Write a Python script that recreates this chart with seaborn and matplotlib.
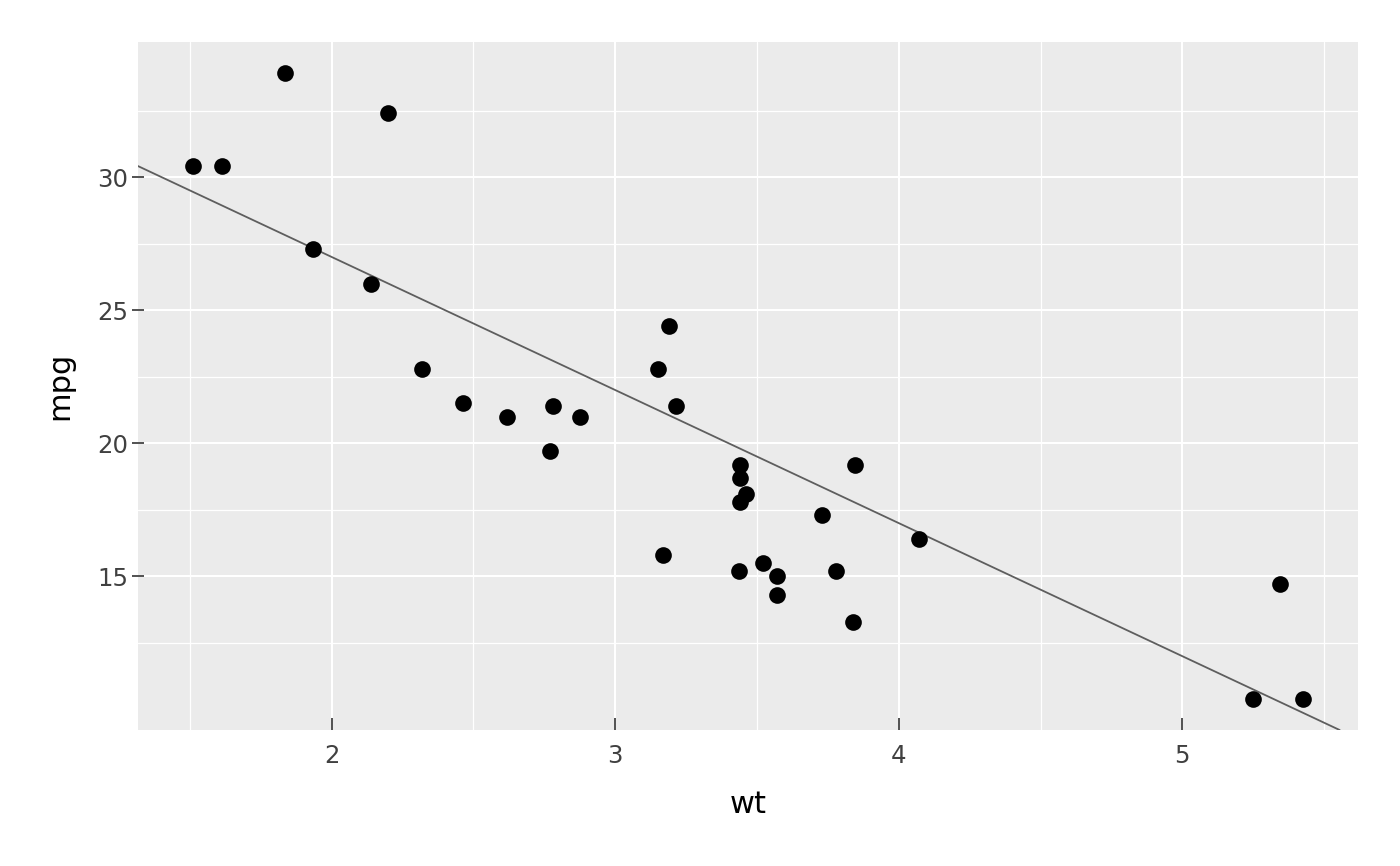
import numpy as np
import pandas as pd
import seaborn as sns
import matplotlib.pyplot as plt
from matplotlib.ticker import FixedLocator

# mtcars weight vs mileage
wt = [2.620, 2.875, 2.320, 3.215, 3.440, 3.460, 3.570, 3.190, 3.150, 3.440, 3.440,
      4.070, 3.730, 3.780, 5.250, 5.424, 5.345, 2.200, 1.615, 1.835, 2.465, 3.520,
      3.435, 3.840, 3.845, 1.935, 2.140, 1.513, 3.170, 2.770, 3.570, 2.780]
mpg = [21.0, 21.0, 22.8, 21.4, 18.7, 18.1, 14.3, 24.4, 22.8, 19.2, 17.8,
       16.4, 17.3, 15.2, 10.4, 10.4, 14.7, 32.4, 30.4, 33.9, 21.5, 15.5,
       15.2, 13.3, 19.2, 27.3, 26.0, 30.4, 15.8, 19.7, 15.0, 21.4]
x_breaks = [2, 3, 4, 5]
x_minor = [1.5, 2.5, 3.5, 4.5, 5.5]
y_breaks = [15, 20, 25, 30]
y_minor = [12.5, 17.5, 22.5, 27.5, 32.5]
line_intercept = 37
line_slope = -5

df = pd.DataFrame({'wt': wt, 'mpg': mpg})

sns.set_theme(style='darkgrid', rc={
    'axes.facecolor': '#EBEBEB',
    'grid.color': 'white',
    'axes.edgecolor': '#EBEBEB',
})
plt.rcParams['font.family'] = ['DejaVu Sans']

fig, ax = plt.subplots(figsize=(7, 4.33), dpi=200)
fig.subplots_adjust(left=0.0986, right=0.970, top=0.9515, bottom=0.157)

sns.scatterplot(data=df, x='wt', y='mpg', color='black', s=36, linewidth=0, ax=ax, zorder=3)
ax.axline((0, line_intercept), slope=line_slope, color='#5E5E5E', linewidth=0.65, zorder=2)

# ggplot style expansion of 5%
xr = max(wt) - min(wt)
yr = max(mpg) - min(mpg)
ax.set_xlim(min(wt) - 0.05 * xr, max(wt) + 0.05 * xr)
ax.set_ylim(min(mpg) - 0.05 * yr, max(mpg) + 0.05 * yr)

ax.xaxis.set_major_locator(FixedLocator(x_breaks))
ax.xaxis.set_minor_locator(FixedLocator(x_minor))
ax.yaxis.set_major_locator(FixedLocator(y_breaks))
ax.yaxis.set_minor_locator(FixedLocator(y_minor))
ax.grid(which='major', color='white', linewidth=0.75)
ax.grid(which='minor', color='white', linewidth=0.45)
for s in ax.spines.values():
    s.set_visible(False)

ax.tick_params(axis='x', which='major', direction='in', length=4.3, width=0.6,
               color='#333333', labelsize=8.8, labelcolor='#404040', pad=5, bottom=True)
ax.tick_params(axis='y', which='major', direction='inout', length=4.3, width=0.6,
               color='#333333', labelsize=8.8, labelcolor='#404040', pad=1.5, left=True)
ax.tick_params(which='minor', length=0)

ax.set_xlabel('wt', fontsize=11, color='black', labelpad=8)
ax.set_ylabel('mpg', fontsize=11, color='black', labelpad=8)

fig.savefig('out.png', dpi=200, facecolor='white')
